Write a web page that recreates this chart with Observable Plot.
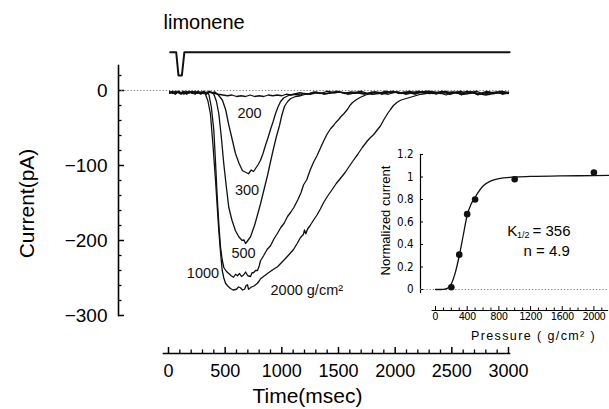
<!DOCTYPE html>
<html>
<head>
<meta charset="utf-8">
<script src="https://cdn.jsdelivr.net/npm/d3@7"></script>
<script src="https://cdn.jsdelivr.net/npm/@observablehq/plot@0.6"></script>
<style>
  html, body { margin: 0; padding: 0; background: white; }
  #wrap { position: relative; width: 609px; height: 409px; }
  #wrap svg { position: absolute; left: 0; top: 0; }
</style>
</head>
<body>
<div id="wrap"></div>
<script>
// ---------- main panel data (time in ms, current in pA) ----------
const stimulus = [[15,51],[68,51],[88,20],[118,20],[140,51],[3010,51]];

const trace200 = [[10,-3],[35,-2],[60,-4],[85,-1],[110,-3],[135,-2],[160,-4],[185,-3],[210,-1],[235,-3],[260,-2],[285,-4],[310,-2],[335,-3],[360,-1],[385,-3],[410,-4],[440,-5],[480,-6],[520,-7],[560,-6],[600,-8],[640,-7],[680,-8],[720,-6],[760,-8],[800,-7],[840,-8],[880,-6],[920,-7],[960,-6],[1000,-7],[1040,-5],[1080,-6],[1120,-5],[1160,-6],[1200,-4],[1250,-5],[1300,-3],[1400,-4],[1500,-2],[1600,-4],[1700,-3],[1800,-5],[1900,-3],[2000,-2],[2100,-4],[2200,-3],[2300,-1],[2400,-4],[2500,-2],[2600,-5],[2700,-3],[2800,-6],[2900,-3],[3000,-4]];

const trace300 = [[10,-1],[35,-3],[60,-5],[85,-2],[110,-3],[135,-1],[160,-4],[185,-2],[210,-3],[235,-5],[260,-2],[285,-3],[310,-1],[335,-4],[360,-2],[385,-3],[410,-2],[440,-6],[476,-13],[505,-26],[529,-44],[560,-64],[591,-84],[622,-97],[653,-107],[680,-109],[706,-111],[730,-106],[750,-108],[768,-104],[790,-99],[812,-93],[834,-84],[856,-73],[878,-63],[900,-52],[922,-42],[944,-31],[966,-22],[988,-15],[1015,-10],[1041,-8],[1070,-6],[1103,-5],[1160,-3],[1220,-5],[1280,-2],[1340,-4],[1400,-1],[1460,-3],[1520,-2],[1580,-5],[1640,-3],[1700,-1],[1760,-4],[1820,-2],[1880,-3],[1940,-5],[2000,-2],[2060,-4],[2120,-1],[2180,-3],[2240,-2],[2300,-4],[2360,-3],[2420,-1],[2480,-5],[2540,-2],[2600,-4],[2660,-3],[2720,-1],[2780,-5],[2840,-3],[2900,-2],[2960,-4],[3000,-2]];

const trace500 = [[10,-4],[35,-2],[60,-3],[85,-1],[110,-4],[135,-3],[160,-5],[185,-2],[210,-3],[235,-1],[260,-4],[285,-2],[310,-3],[335,-5],[360,-2],[385,-3],[400,-5],[422,-14],[444,-31],[466,-62],[488,-98],[510,-128],[532,-156],[560,-173],[591,-187],[620,-195],[650,-200],[665,-199],[680,-204],[700,-200],[724,-195],[740,-188],[759,-180],[785,-166],[812,-151],[843,-132],[874,-113],[900,-95],[927,-77],[953,-61],[979,-47],[1000,-33],[1024,-21],[1050,-15],[1076,-11],[1120,-8],[1165,-7],[1210,-5],[1253,-4],[1310,-2],[1370,-5],[1430,-3],[1490,-1],[1550,-4],[1610,-2],[1670,-3],[1730,-5],[1790,-2],[1850,-4],[1910,-1],[1970,-3],[2030,-2],[2090,-5],[2150,-3],[2210,-1],[2270,-4],[2330,-2],[2390,-3],[2450,-6],[2510,-2],[2570,-4],[2630,-1],[2690,-3],[2750,-5],[2810,-2],[2870,-4],[2930,-2],[3000,-3]];

const trace1000 = [[10,-3],[35,-1],[60,-4],[85,-2],[110,-3],[135,-5],[160,-1],[185,-3],[210,-2],[235,-4],[260,-1],[285,-3],[310,-4],[340,-2],[356,-5],[378,-22],[400,-53],[415,-96],[430,-142],[445,-180],[459,-209],[474,-226],[488,-236],[510,-241],[532,-244],[553,-247],[574,-249],[592,-245],[609,-247],[627,-244],[644,-248],[662,-246],[680,-242],[700,-247],[724,-248],[737,-243],[750,-243],[768,-240],[785,-240],[800,-234],[812,-227],[840,-220],[870,-212],[900,-207],[930,-198],[959,-191],[990,-183],[1020,-177],[1050,-168],[1080,-162],[1106,-156],[1140,-146],[1170,-136],[1191,-126],[1220,-119],[1250,-106],[1282,-95],[1310,-87],[1340,-77],[1370,-67],[1400,-58],[1430,-51],[1460,-46],[1474,-43],[1500,-39],[1520,-35],[1547,-31],[1580,-25],[1600,-20],[1624,-16],[1660,-12],[1694,-9],[1740,-6],[1782,-4],[1830,-2],[1880,-5],[1930,-3],[1980,-1],[2030,-4],[2080,-2],[2130,-3],[2180,-5],[2230,-2],[2280,-1],[2330,-4],[2380,-3],[2430,-2],[2480,-5],[2530,-3],[2580,-1],[2630,-4],[2680,-2],[2730,-6],[2780,-3],[2830,-2],[2880,-4],[2930,-1],[3000,-3]];

const trace2000 = [[10,-2],[35,-4],[60,-1],[85,-3],[110,-5],[135,-2],[160,-3],[185,-1],[210,-4],[235,-2],[260,-3],[285,-5],[310,-2],[326,-5],[348,-14],[370,-31],[392,-72],[415,-120],[430,-155],[444,-187],[459,-216],[474,-240],[488,-250],[503,-257],[525,-261],[547,-264],[570,-266],[600,-265],[618,-262],[635,-263],[653,-266],[671,-265],[685,-260],[697,-259],[706,-265],[715,-264],[732,-262],[750,-261],[768,-259],[785,-257],[800,-254],[812,-251],[847,-247],[882,-243],[920,-239],[962,-235],[1000,-229],[1032,-224],[1068,-218],[1103,-212],[1135,-204],[1165,-196],[1190,-192],[1200,-186],[1212,-191],[1226,-185],[1250,-180],[1279,-173],[1310,-166],[1340,-158],[1370,-149],[1403,-141],[1440,-133],[1480,-124],[1518,-117],[1560,-109],[1600,-100],[1632,-93],[1670,-85],[1710,-76],[1756,-67],[1780,-63],[1809,-59],[1840,-53],[1871,-47],[1900,-39],[1932,-31],[1960,-25],[1985,-20],[2015,-16],[2047,-13],[2090,-11],[2135,-9],[2180,-7],[2224,-5],[2270,-4],[2315,-2],[2360,-5],[2405,-3],[2450,-1],[2495,-4],[2540,-2],[2585,-6],[2630,-3],[2675,-2],[2720,-5],[2765,-3],[2810,-1],[2855,-4],[2900,-2],[2945,-5],[3000,-3]];

const traceLabelText = ["200", "300", "500", "1000"];
const traceLabelT    = [715, 693, 662, 304];
const traceLabelV    = [-31, -133, -217, -244];
const lastLabel = {text: "2000 g/cm²", t: 900, v: -267};

const yMajor = [0, -100, -200, -300];
const yMinor = [20, -20, -40, -60, -80, -120, -140, -160, -180, -220, -240, -260, -280];
const xMajor = [0, 500, 1000, 1500, 2000, 2500, 3000];
const xMinor = d3.range(0, 3001, 100).filter(d => d % 500 !== 0);

// ---------- inset data ----------
const pressures = [200, 300, 400, 500, 1000, 2000];
const normCurrent = [0.02, 0.31, 0.67, 0.80, 0.98, 1.04];
const fitP = [0, 100, 150, 200, 250, 300, 350, 400, 450, 500, 600, 700, 800, 1000, 1200, 1600, 2000, 2200];
const fitV = [0, 0.002, 0.01, 0.05, 0.15, 0.30, 0.48, 0.66, 0.76, 0.82, 0.92, 0.965, 0.985, 1.0, 1.005, 1.01, 1.012, 1.015];
const insetYTicks = [0, 0.2, 0.4, 0.6, 0.8, 1, 1.2];
const insetXMajor = [0, 400, 800, 1200, 1600, 2000];
const insetXMinor = d3.range(0, 2201, 100).filter(d => d % 400 !== 0);
const fitText = [
  {text: "K", p: 905, v: 0.522, size: 15},
  {text: "1/2", p: 1029, v: 0.484, size: 9},
  {text: "= 356", p: 1225, v: 0.522, size: 15},
  {text: "n = 4.9", p: 1111, v: 0.345, size: 15}
];

const FONT = "'Liberation Sans', Arial, Helvetica, sans-serif";
const NARROW = "'Liberation Sans Narrow', 'DejaVu Sans Condensed', 'Arial Narrow', 'Liberation Sans', sans-serif";

const traces = [trace200, trace300, trace500, trace1000, trace2000];
const traceLabels = traceLabelText.map((s, i) => ({text: s, t: traceLabelT[i], v: traceLabelV[i]}));

const main = Plot.plot({
  width: 609, height: 409,
  marginLeft: 118, marginRight: 100, marginTop: 65, marginBottom: 56,
  style: {fontFamily: FONT, background: "white", color: "black", overflow: "visible"},
  x: {domain: [0, 3000], range: [168, 508], axis: null},
  y: {domain: [-300, 0], range: [315, 90], axis: null},
  marks: [
    Plot.frame({anchor: "left", insetBottom: 38, strokeWidth: 1.6}),
    Plot.frame({anchor: "bottom", insetLeft: 45, strokeWidth: 1.6}),
    Plot.axisY({ticks: yMajor, tickSize: -6, tickPadding: 17, tickFormat: d3.format("d"), fontSize: 19, label: null, strokeWidth: 1.5}),
    Plot.axisY({ticks: yMinor, tickSize: -3.5, fill: "none", label: null, strokeWidth: 1.3}),
    Plot.axisX({anchor: "bottom", ticks: xMajor, tickSize: -6, tickPadding: 17, tickFormat: d3.format("d"), fontSize: 18, label: null, strokeWidth: 1.5}),
    Plot.axisX({anchor: "bottom", ticks: xMinor, tickSize: -3.5, fill: "none", label: null, strokeWidth: 1.3}),
    Plot.ruleY([0], {stroke: "#777", strokeDasharray: "1.2,2", insetLeft: 3}),
    ...traces.map(tr => Plot.line(tr, {x: d => d[0], y: d => d[1], stroke: "#111", strokeWidth: 1.3, curve: "linear"})),
    Plot.line(stimulus, {x: d => d[0], y: d => d[1], stroke: "#111", strokeWidth: 2}),
    Plot.text(traceLabels, {x: "t", y: "v", text: "text", fontSize: 14.5, fill: "#111"}),
    Plot.text([lastLabel], {x: "t", y: "v", text: "text", fontSize: 14.5, textAnchor: "start", fill: "#111"}),
    Plot.text(["limonene"], {text: d => d, frameAnchor: "top-left", dx: 45, dy: -43.4, textAnchor: "start", lineAnchor: "middle", fontSize: 20}),
    Plot.text(["Current(pA)"], {text: d => d, frameAnchor: "left", rotate: -90, dx: -91, dy: -6, textAnchor: "middle", lineAnchor: "middle", fontSize: 21}),
    Plot.text(["Time(msec)"], {text: d => d, frameAnchor: "bottom", dx: -6.5, dy: 43, textAnchor: "middle", lineAnchor: "middle", fontSize: 21})
  ]
});

const inset = Plot.plot({
  width: 609, height: 409,
  marginLeft: 420, marginRight: 2, marginTop: 154, marginBottom: 99,
  style: {fontFamily: FONT, background: "transparent", color: "black", overflow: "visible"},
  x: {domain: [0, 2000], range: [435, 593.4], axis: null},
  y: {domain: [0, 1.2], range: [289, 154], axis: null},
  marks: [
    Plot.frame({anchor: "left", insetBottom: 18, strokeWidth: 1.2}),
    Plot.frame({anchor: "bottom", insetLeft: 11.7, strokeWidth: 1.2}),
    Plot.axisY({ticks: insetYTicks, tickSize: -3, tickPadding: 10, tickFormat: d => String(d), fontSize: 11.5, fontFamily: NARROW, label: null}),
    Plot.axisX({anchor: "bottom", ticks: insetXMajor, tickSize: -4, tickPadding: 6, tickFormat: d3.format("d"), fontSize: 11, fontFamily: NARROW, label: null}),
    Plot.axisX({anchor: "bottom", ticks: insetXMinor, tickSize: -2.5, fill: "none", label: null}),
    Plot.ruleY([0], {stroke: "#777", strokeDasharray: "1.2,2"}),
    Plot.line(fitP.map((p, i) => [p, fitV[i]]), {x: d => d[0], y: d => d[1], curve: "monotone-x", stroke: "#111", strokeWidth: 1.3}),
    Plot.dot(pressures.map((p, i) => [p, normCurrent[i]]), {x: d => d[0], y: d => d[1], r: 3.3, fill: "#111", stroke: "none"}),
    ...fitText.map(f => Plot.text([f], {x: "p", y: "v", text: "text", fontSize: f.size, textAnchor: "start"})),
    Plot.text(["Normalized current"], {text: d => d, frameAnchor: "left", rotate: -90, dx: -35, dy: -12, textAnchor: "middle", lineAnchor: "middle", fontSize: 13}),
    Plot.text(["Pressure ( g/cm² )"], {text: d => d, frameAnchor: "bottom", dx: 19.5, dy: 25, textAnchor: "middle", lineAnchor: "middle", fontSize: 12.5})
  ]
});

d3.select(inset).selectAll("text")
  .filter(function() { return this.textContent.startsWith("Pressure"); })
  .style("letter-spacing", "1.4px");
d3.select(inset).selectAll("text")
  .filter(function() { return /^\d+$/.test(this.textContent) && +this.textContent >= 400; })
  .style("letter-spacing", "-0.6px");

const wrap = document.getElementById("wrap");
wrap.appendChild(main);
wrap.appendChild(inset);
</script>
</body>
</html>
